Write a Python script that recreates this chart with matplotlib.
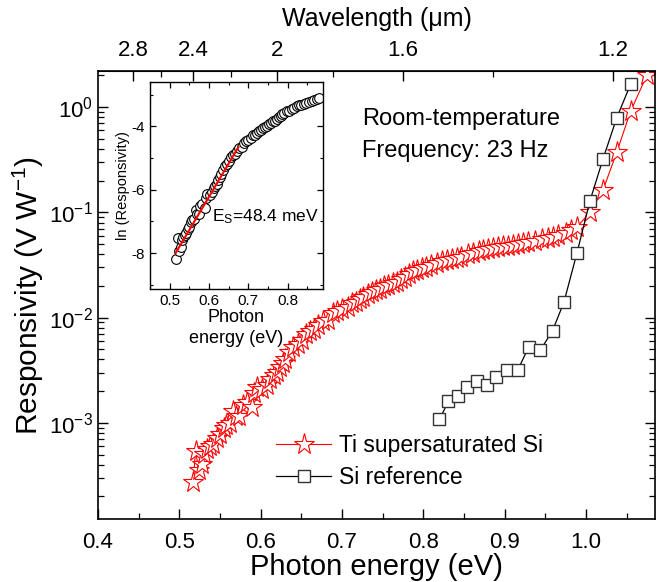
import numpy as np
import matplotlib
matplotlib.use("Agg")
import matplotlib.pyplot as plt
from matplotlib.ticker import FixedLocator, LogLocator, MultipleLocator, NullFormatter, FixedFormatter

plt.rcParams['font.family'] = ['Liberation Sans', 'DejaVu Sans']
plt.rcParams['mathtext.fontset'] = 'custom'
plt.rcParams['mathtext.rm'] = 'Liberation Sans'
plt.rcParams['mathtext.it'] = 'Liberation Sans:italic'
plt.rcParams['mathtext.bf'] = 'Liberation Sans:bold'
plt.rcParams['axes.unicode_minus'] = False

# ---------------- data ----------------
ti_energy = [0.517, 0.520, 0.524, 0.528, 0.531, 0.534, 0.538, 0.541, 0.546, 0.550,
             0.555, 0.558, 0.562, 0.566, 0.570, 0.574, 0.578, 0.583, 0.589, 0.592,
             0.596, 0.602, 0.608, 0.612, 0.616, 0.620, 0.624, 0.627, 0.630, 0.635,
             0.640, 0.646, 0.651, 0.656, 0.661, 0.666, 0.671, 0.677, 0.683, 0.689,
             0.694, 0.700, 0.707, 0.712, 0.717, 0.722, 0.726, 0.732, 0.737, 0.742,
             0.747, 0.752, 0.757, 0.763, 0.768, 0.773, 0.778, 0.783, 0.787, 0.792,
             0.798, 0.804, 0.810, 0.817, 0.823, 0.829, 0.835, 0.841, 0.847, 0.855,
             0.861, 0.868, 0.874, 0.880, 0.886, 0.892, 0.898, 0.904, 0.910, 0.916,
             0.923, 0.929, 0.937, 0.946, 0.953, 0.959, 0.966, 0.975, 0.982, 0.989,
             1.005, 1.021, 1.038, 1.055, 1.075]
ti_resp = [2.75e-4, 5.37e-4, 3.55e-4, 4.07e-4, 5.01e-4, 5.62e-4, 6.03e-4, 6.31e-4, 7.24e-4, 7.76e-4,
           8.91e-4, 9.55e-4, 1.00e-3, 1.29e-3, 1.17e-3, 1.15e-3, 1.48e-3, 1.58e-3, 1.41e-3, 1.91e-3,
           2.19e-3, 2.09e-3, 2.29e-3, 2.63e-3, 2.82e-3, 3.02e-3, 3.39e-3, 3.72e-3, 4.07e-3, 4.68e-3,
           5.25e-3, 5.62e-3, 6.17e-3, 6.92e-3, 7.41e-3, 7.76e-3, 8.51e-3, 9.33e-3, 9.55e-3, 1.10e-2,
           1.15e-2, 1.20e-2, 1.26e-2, 1.38e-2, 1.41e-2, 1.51e-2, 1.58e-2, 1.66e-2, 1.74e-2, 1.82e-2,
           1.86e-2, 2.00e-2, 2.04e-2, 2.14e-2, 2.19e-2, 2.34e-2, 2.45e-2, 2.57e-2, 2.75e-2, 2.82e-2,
           2.95e-2, 3.02e-2, 3.16e-2, 3.31e-2, 3.47e-2, 3.55e-2, 3.63e-2, 3.72e-2, 3.80e-2, 3.98e-2,
           4.07e-2, 4.27e-2, 4.37e-2, 4.47e-2, 4.57e-2, 4.68e-2, 4.79e-2, 4.79e-2, 4.90e-2, 5.01e-2,
           5.13e-2, 5.25e-2, 5.37e-2, 5.62e-2, 5.75e-2, 5.89e-2, 6.03e-2, 6.31e-2, 6.76e-2, 7.24e-2,
           0.100, 0.162, 0.372, 0.912, 2.00]

si_energy = [0.820, 0.831, 0.843, 0.854, 0.866, 0.878, 0.890, 0.903, 0.916, 0.930,
             0.944, 0.959, 0.973, 0.989, 1.005, 1.021, 1.038, 1.055]
si_resp = [1.08e-3, 1.60e-3, 1.80e-3, 2.20e-3, 2.50e-3, 2.30e-3, 2.75e-3, 3.15e-3, 3.15e-3, 5.30e-3,
           4.90e-3, 7.50e-3, 1.40e-2, 4.10e-2, 0.128, 0.32, 0.79, 1.65]

inset_max_energy = 0.885
fit_energy = [0.515, 0.675]
fit_ln_resp = [-8.0, -4.65]

wl_major = [2.8, 2.4, 2.0, 1.6, 1.2]
wl_major_labels = ['2.8', '2.4', '2', '1.6', '1.2']
wl_minor = [2.6, 2.2, 1.8, 1.4]

# ---------------- figure ----------------
fig = plt.figure(figsize=(6.62, 5.82), dpi=100)
ax = fig.add_axes([0.148, 0.1082, 0.8414, 0.7698])

ax.plot(ti_energy, ti_resp, '-', color='red', lw=0.8, marker='*', ms=15.5,
        mfc='white', mec='red', mew=0.8, label='Ti supersaturated Si')
ax.plot(si_energy, si_resp, '-', color='black', lw=0.9, marker='s', ms=8.5,
        mfc='white', mec='#333333', mew=1.0, label='Si reference')

ax.set_yscale('log')
ax.set_xlim(0.4, 1.085)
ax.set_ylim(1.22e-4, 2.2)
ax.xaxis.set_minor_locator(MultipleLocator(0.05))
ax.set_xticks([0.4, 0.5, 0.6, 0.7, 0.8, 0.9, 1.0])
ax.set_xticklabels(['0.4', '0.5', '0.6', '0.7', '0.8', '0.9', '1.0'])
ax.yaxis.set_major_locator(LogLocator(base=10, numticks=10))
ax.yaxis.set_minor_locator(LogLocator(base=10, subs=np.arange(2, 10), numticks=20))
ax.yaxis.set_minor_formatter(NullFormatter())
ax.tick_params(which='both', direction='in', top=False, right=True, labelsize=16)
ax.tick_params(which='major', length=7, width=1.0)
ax.tick_params(which='minor', length=4, width=0.9)
ax.tick_params(axis='x', pad=9)
for s in ax.spines.values():
    s.set_linewidth(1.2)
ax.set_xlabel('Photon energy (eV)', fontsize=21, labelpad=0)
ax.set_ylabel('Responsivity (V W$^{\\mathrm{-1}}$)', fontsize=21.5, labelpad=2)


def e2wl(e):
    e = np.asarray(e, dtype=float)
    with np.errstate(divide='ignore'):
        return np.where(e != 0, 1.24 / np.where(e != 0, e, 1), np.inf)


sec = ax.secondary_xaxis('top', functions=(e2wl, e2wl))
sec.xaxis.set_major_locator(FixedLocator(wl_major))
sec.xaxis.set_major_formatter(FixedFormatter(wl_major_labels))
sec.xaxis.set_minor_locator(FixedLocator(wl_minor))
sec.tick_params(which='both', direction='in', labelsize=16)
sec.tick_params(which='major', length=7, width=1.0, pad=7.5)
sec.tick_params(which='minor', length=4, width=0.9)
sec.set_xlabel('Wavelength (\u03bcm)', fontsize=18, labelpad=10)

ax.text(0.474, 0.918, 'Room-temperature\nFrequency: 23 Hz', transform=ax.transAxes,
        fontsize=17, va='top', ha='left', linespacing=1.6)

ax.legend(loc='upper left', bbox_to_anchor=(0.32, 0.19), frameon=False, fontsize=16.5,
          handlelength=2.4, handletextpad=0.35, labelspacing=0.4, borderpad=0,
          borderaxespad=0, numpoints=1)

# ---------------- inset ----------------
ins = fig.add_axes([0.2266, 0.5034, 0.2613, 0.3557])
ie = np.array(ti_energy)
ir = np.array(ti_resp)
mask = ie <= inset_max_energy
ins.plot(ie[mask], np.log(ir[mask]), 'o', ms=7, mfc='white', mec='black', mew=0.8)
ins.plot(fit_energy, fit_ln_resp, '-', color='red', lw=1.5)
ins.set_xlim(0.45, 0.89)
ins.set_ylim(-9.13, -2.6)
ins.xaxis.set_major_locator(MultipleLocator(0.1))
ins.xaxis.set_minor_locator(MultipleLocator(0.05))
ins.yaxis.set_major_locator(FixedLocator([-8, -6, -4]))
ins.yaxis.set_minor_locator(FixedLocator([-9, -7, -5, -3]))
ins.tick_params(which='both', direction='in', top=True, right=True, labelsize=11)
ins.tick_params(which='major', length=4, width=0.9)
ins.tick_params(which='minor', length=2.5, width=0.8)
for s in ins.spines.values():
    s.set_linewidth(1.0)
ins.set_xlabel('Photon\nenergy (eV)', fontsize=13, labelpad=1, linespacing=1.25)
ins.set_ylabel('ln (Responsivity)', fontsize=10.5, labelpad=1)
ins.text(0.36, 0.35, 'E$_{\\mathrm{S}}$=48.4 meV', transform=ins.transAxes, fontsize=12.5,
         ha='left', va='center')

fig.savefig('out.png', dpi=100)
